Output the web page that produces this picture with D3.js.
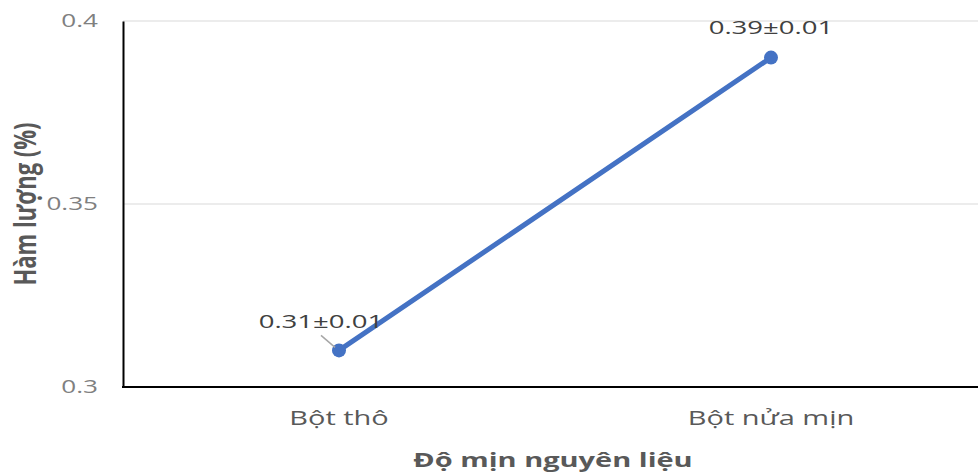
<!DOCTYPE html>
<html>
<head>
<meta charset="utf-8">
<script src="https://cdn.jsdelivr.net/npm/d3@7"></script>
<style>
  html, body { margin: 0; padding: 0; background: #fff; }
  svg { display: block; }
</style>
</head>
<body>
<svg id="chart" width="978" height="474"></svg>
<script>
// Data
const categories = ["Bột thô", "Bột nửa mịn"];
const values = [0.31, 0.39];
const valueLabels = ["0.31±0.01", "0.39±0.01"];
const yTicks = [0.3, 0.35, 0.4];
const yTickLabels = ["0.3", "0.35", "0.4"];

const svg = d3.select("#chart");
const margin = { left: 123, right: -9, top: 21, bottom: 87 };
const W = 978, H = 474;
const SX = 1.45; // horizontal stretch of the lettering

const x = d3.scaleBand()
  .domain(categories)
  .range([margin.left, W - margin.right])
  .paddingInner(0).paddingOuter(0);

const y = d3.scaleLinear()
  .domain([0.3, 0.4])
  .range([H - margin.bottom, margin.top]);

const font = "'Open Sans', 'Noto Sans', sans-serif";

// Gridlines
svg.append("g")
  .selectAll("line")
  .data(yTicks.filter(t => t > 0.3))
  .join("line")
  .attr("x1", margin.left).attr("x2", W)
  .attr("y1", d => y(d)).attr("y2", d => y(d))
  .attr("stroke", "#d9d9d9").attr("stroke-width", 1);

// Y axis
const yAxis = d3.axisLeft(y)
  .tickValues(yTicks)
  .tickFormat((d, i) => yTickLabels[i])
  .tickSize(0).tickPadding(25 / SX);
const gy = svg.append("g").attr("transform", `translate(${margin.left},0)`).call(yAxis);
gy.select(".domain").attr("stroke", "#000").attr("stroke-width", 2);
gy.selectAll("text")
  .attr("font-family", font).attr("font-size", 18).attr("fill", "#808080")
  .attr("transform", `scale(${SX},1)`);

// X axis
const xAxis = d3.axisBottom(x).tickSize(0).tickPadding(24);
const gx = svg.append("g").attr("transform", `translate(0,${y(0.3)})`).call(xAxis);
gx.select(".domain").attr("stroke", "#000").attr("stroke-width", 2)
  .attr("d", `M${margin.left - 1},0H${W}`);
gx.selectAll("text")
  .attr("font-family", font).attr("font-size", 20).attr("fill", "#595959")
  .attr("transform", `scale(${SX},1)`);

// Axis titles
svg.append("text")
  .attr("transform", `translate(553,467) scale(${SX},1)`)
  .attr("text-anchor", "middle")
  .attr("font-family", font).attr("font-size", 20).attr("font-weight", "bold")
  .attr("fill", "#595959")
  .text("Độ mịn nguyên liệu");

svg.append("text")
  .attr("transform", `translate(36,${(y(0.3) + y(0.4)) / 2}) rotate(-90) scale(1,1.35)`)
  .attr("text-anchor", "middle")
  .attr("font-family", font).attr("font-size", 22).attr("font-weight", "bold")
  .attr("fill", "#595959")
  .text("Hàm lượng (%)");

const cx = d => x(d) + x.bandwidth() / 2;
const pts = categories.map((c, i) => ({ c, v: values[i], label: valueLabels[i] }));

// Series line
svg.append("path")
  .datum(pts)
  .attr("fill", "none")
  .attr("stroke", "#4472c4")
  .attr("stroke-width", 5)
  .attr("stroke-linecap", "round")
  .attr("d", d3.line().x(d => cx(d.c)).y(d => y(d.v)));

// Markers
svg.append("g").selectAll("circle")
  .data(pts).join("circle")
  .attr("cx", d => cx(d.c)).attr("cy", d => y(d.v))
  .attr("r", 7).attr("fill", "#4472c4");

// Leader line for the first label
svg.append("line")
  .attr("x1", cx(categories[0]) - 18).attr("y1", y(values[0]) - 15)
  .attr("x2", cx(categories[0]) - 4).attr("y2", y(values[0]) - 3)
  .attr("stroke", "#a6a6a6").attr("stroke-width", 1.5);

// Data labels
const labelOffsets = [{ dx: -18, dy: -22 }, { dx: 0, dy: -24 }];
svg.append("g").selectAll("text")
  .data(pts).join("text")
  .attr("transform", (d, i) =>
    `translate(${cx(d.c) + labelOffsets[i].dx},${y(d.v) + labelOffsets[i].dy}) scale(${SX},1)`)
  .attr("text-anchor", "middle")
  .attr("font-family", font).attr("font-size", 19).attr("fill", "#404040")
  .text(d => d.label);
</script>
</body>
</html>
